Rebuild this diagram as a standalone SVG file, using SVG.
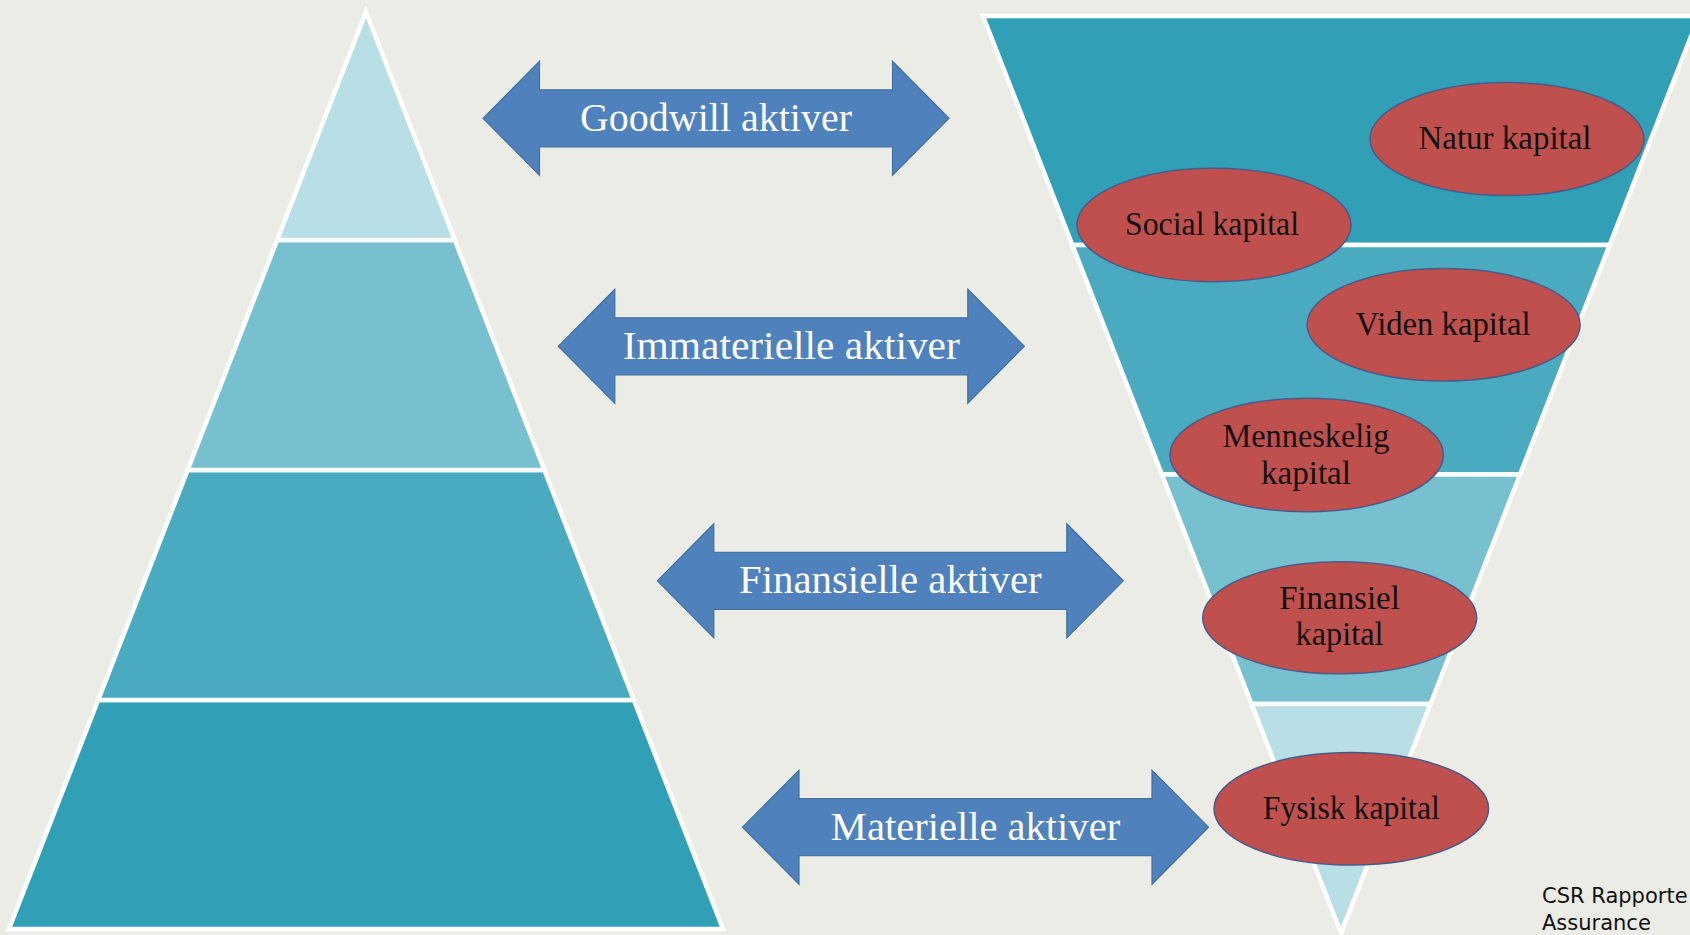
<svg xmlns="http://www.w3.org/2000/svg" xmlns:xlink="http://www.w3.org/1999/xlink" width="1690" height="935" viewBox="0 0 1690 935">
  <style>
    .band { stroke: #ffffff; stroke-width: 4.5; stroke-linejoin: miter; }
    .c1 { fill: #B8DFE6; }
    .c2 { fill: #77C0CF; }
    .c3 { fill: #4AABC0; }
    .c4 { fill: #31A0B6; }
    .arrow { fill: #4F81BD; stroke: #41719C; stroke-width: 1.2; }
    .alabel { fill: #ffffff; font-family: "Liberation Serif", "Times New Roman", serif; font-size: 40px; text-anchor: middle; }
    .oval { fill: #C0504D; stroke: #4A5A8A; stroke-width: 1.5; }
    .olabel { fill: #111111; font-family: "Liberation Serif", "Times New Roman", serif; font-size: 33px; text-anchor: middle; }
    .note { fill: #111111; font-family: "DejaVu Sans", Verdana, sans-serif; font-size: 21px; }
  </style>
  <defs>
    <path id="dblArrow" d="M0,0 L56.5,-57 L56.5,-28.5 L409.5,-28.5 L409.5,-57 L466,0 L409.5,57 L409.5,28.5 L56.5,28.5 L56.5,57 Z"/>
  </defs>

  <rect x="0" y="0" width="1690" height="935" fill="#ECECE7"/>

  <g id="pyramid">
    <polygon class="band c4" points="98.2,700 633.8,700 723,929 9,929"/>
    <polygon class="band c3" points="187.7,470 544.3,470 633.8,700 98.2,700"/>
    <polygon class="band c2" points="277.2,240 454.8,240 544.3,470 187.7,470"/>
    <polygon class="band c1" points="366,12 454.8,240 277.2,240"/>
  </g>

  <g id="funnel">
    <polygon class="band c4" points="983,16 1699,16 1609.6,245 1072.4,245"/>
    <polygon class="band c3" points="1072.4,245 1609.6,245 1520,474.5 1162,474.5"/>
    <polygon class="band c2" points="1162,474.5 1520,474.5 1430.4,704 1251.6,704"/>
    <polygon class="band c1" points="1251.6,704 1430.4,704 1341,933"/>
  </g>

  <g id="connectors">
    <g id="arrow-goodwill">
      <use xlink:href="#dblArrow" href="#dblArrow" class="arrow" transform="translate(483,118.3)"/>
      <text class="alabel" x="716" y="131" textLength="272" lengthAdjust="spacingAndGlyphs">Goodwill aktiver</text>
    </g>
    <g id="arrow-immaterielle">
      <use xlink:href="#dblArrow" href="#dblArrow" class="arrow" transform="translate(558.3,346.3)"/>
      <text class="alabel" x="791.3" y="358.5" textLength="337" lengthAdjust="spacingAndGlyphs">Immaterielle aktiver</text>
    </g>
    <g id="arrow-finansielle">
      <use xlink:href="#dblArrow" href="#dblArrow" class="arrow" transform="translate(657.3,580.8)"/>
      <text class="alabel" x="890.3" y="593" textLength="302.7" lengthAdjust="spacingAndGlyphs">Finansielle aktiver</text>
    </g>
    <g id="arrow-materielle">
      <use xlink:href="#dblArrow" href="#dblArrow" class="arrow" transform="translate(742.5,827.2)"/>
      <text class="alabel" x="975.5" y="839.5" textLength="289.3" lengthAdjust="spacingAndGlyphs">Materielle aktiver</text>
    </g>
  </g>

  <g id="natur-kapital">
    <ellipse class="oval" cx="1507" cy="139" rx="137" ry="56.5"/>
    <text class="olabel" x="1505" y="149" textLength="173" lengthAdjust="spacingAndGlyphs">Natur kapital</text>
  </g>
  <g id="social-kapital">
    <ellipse class="oval" cx="1214" cy="225" rx="137" ry="56.7"/>
    <text class="olabel" x="1212" y="234.5" textLength="174" lengthAdjust="spacingAndGlyphs">Social kapital</text>
  </g>
  <g id="viden-kapital">
    <ellipse class="oval" cx="1443.6" cy="324.7" rx="136.5" ry="56.3"/>
    <text class="olabel" x="1443" y="334.5" textLength="175" lengthAdjust="spacingAndGlyphs">Viden kapital</text>
  </g>
  <g id="menneskelig-kapital">
    <ellipse class="oval" cx="1306.7" cy="455" rx="136.7" ry="56.7"/>
    <text class="olabel" x="1306" y="447" textLength="167" lengthAdjust="spacingAndGlyphs">Menneskelig</text>
    <text class="olabel" x="1306" y="484" textLength="90" lengthAdjust="spacingAndGlyphs">kapital</text>
  </g>
  <g id="finansiel-kapital">
    <ellipse class="oval" cx="1339.7" cy="617.8" rx="137" ry="56"/>
    <text class="olabel" x="1339.5" y="608.5" textLength="120.7" lengthAdjust="spacingAndGlyphs">Finansiel</text>
    <text class="olabel" x="1339.5" y="644.5" textLength="88" lengthAdjust="spacingAndGlyphs">kapital</text>
  </g>
  <g id="fysisk-kapital">
    <ellipse class="oval" cx="1351.3" cy="808.8" rx="137.3" ry="56.2"/>
    <text class="olabel" x="1351.3" y="819" textLength="177" lengthAdjust="spacingAndGlyphs">Fysisk kapital</text>
  </g>

  <g id="source-note">
    <text class="note" x="1542" y="902.5">CSR Rapporte</text>
    <text class="note" x="1542" y="929.5">Assurance</text>
  </g>
</svg>
